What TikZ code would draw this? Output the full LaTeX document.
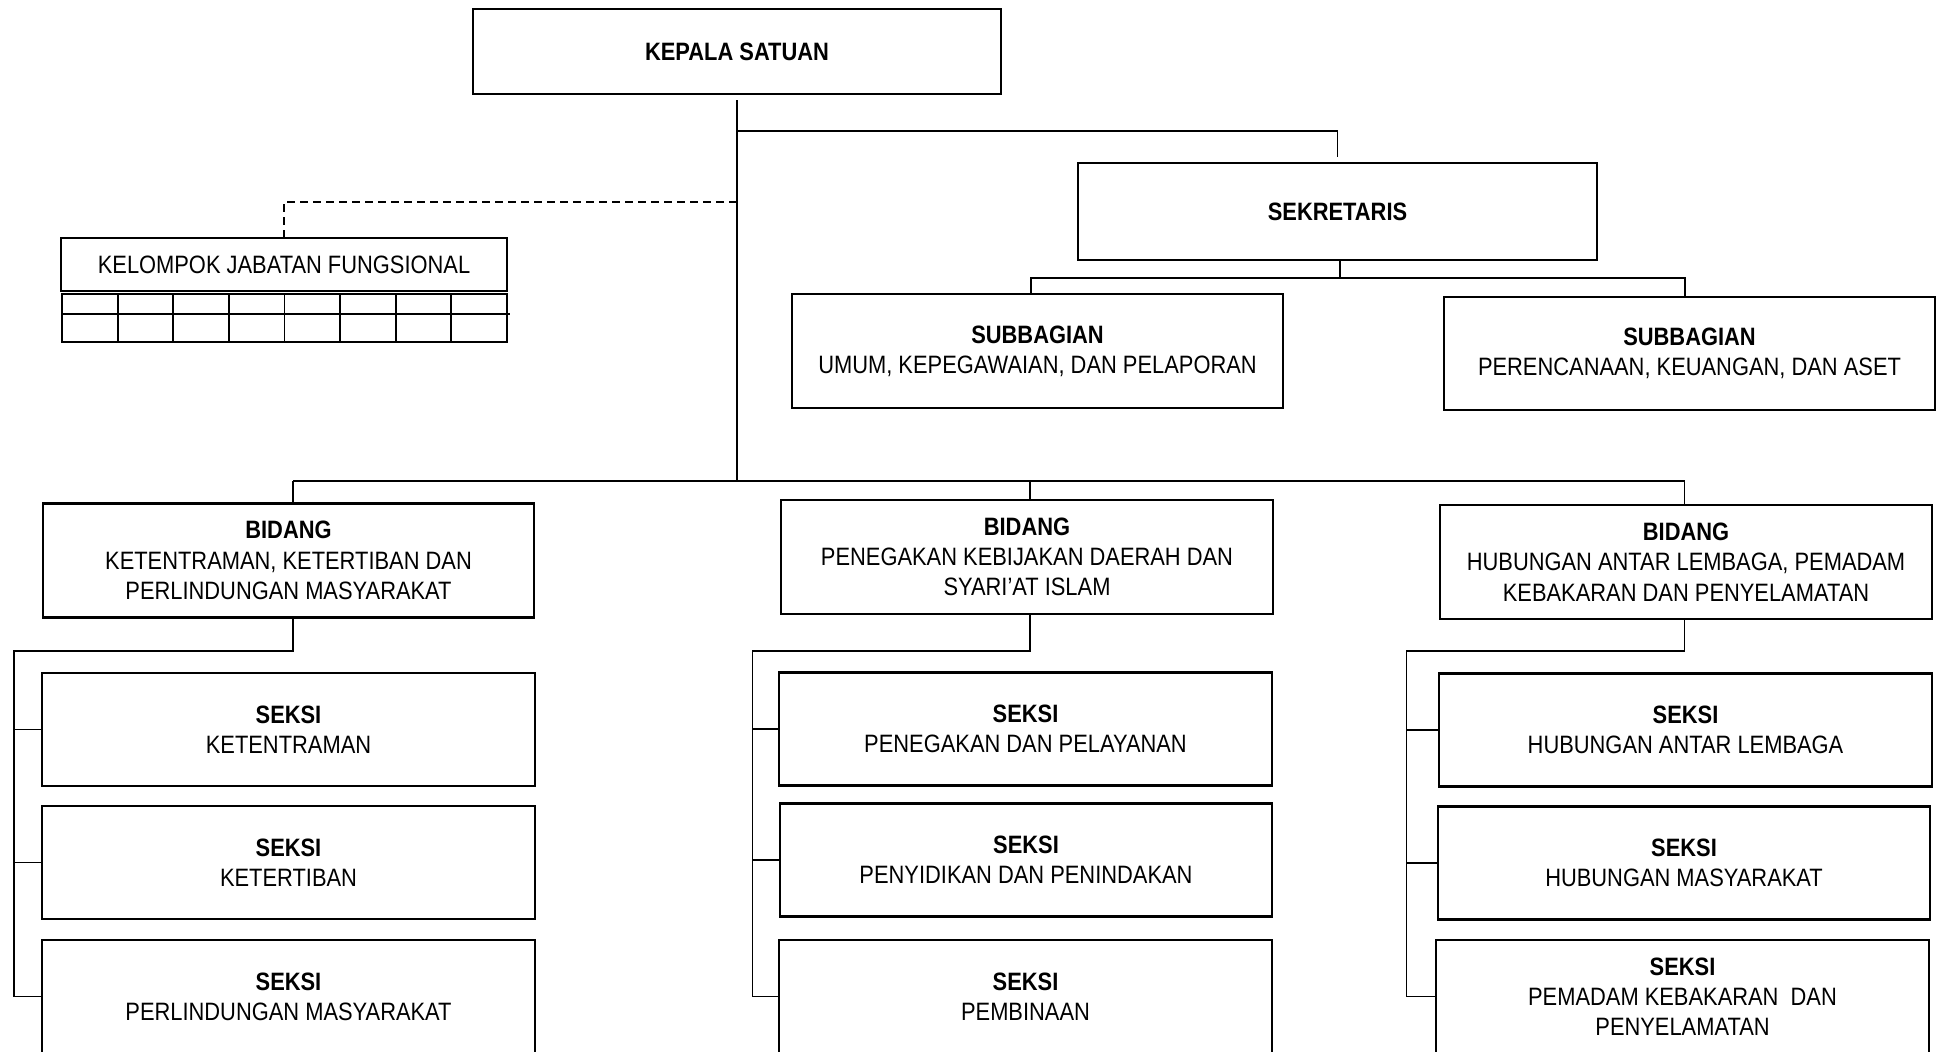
\documentclass[tikz,border=0pt]{standalone}
\usepackage{fontspec}
\setmainfont[FakeStretch=0.87]{Liberation Sans}
\usetikzlibrary{calc, positioning}

\begin{document}
\begin{tikzpicture}[x=0.01cm, y=-0.01cm,
    box/.style={draw, line width=0.6pt, rectangle, inner sep=0pt, align=center,
        font=\fontsize{7.15}{8.6}\selectfont},
    seksibox/.style={box, minimum width=4.92cm, minimum height=1.13cm},
    conn/.style={line width=0.55pt},
    dashconn/.style={line width=0.55pt, dash pattern=on 2.2pt off 1.5pt},
    cell/.style={line width=0.55pt}]

    \useasboundingbox (0,0) rectangle (1940,1051);
    \clip (0,0) rectangle (1940,1051);

    % pimpinan dan sekretariat
    \node[box, minimum width=5.28cm, minimum height=0.85cm] (nKepala) at (737,51.5) {\textbf{KEPALA SATUAN}};
    \node[box, minimum width=5.19cm, minimum height=0.97cm] (nSekretaris) at (1337.5,211.5) {\textbf{SEKRETARIS}};
    \node[box, minimum width=4.91cm, minimum height=1.14cm] (nSubbagA) at (1037.5,351) {\textbf{SUBBAGIAN}\\UMUM, KEPEGAWAIAN, DAN PELAPORAN};
    \node[box, minimum width=4.91cm, minimum height=1.13cm] (nSubbagB) at (1689.5,353.5) {\textbf{SUBBAGIAN}\\PERENCANAAN, KEUANGAN, DAN ASET};

    % fungsional
    \node[box, minimum width=4.46cm, minimum height=0.53cm] (nKelompok) at (284,264.5) {KELOMPOK JABATAN FUNGSIONAL};
    \foreach \i in {0,...,7}
    {
        \draw[cell] ({62+55.625*\i},294) rectangle ({62+55.625*(\i+1)},342);
    };
    \draw[cell] (62,314) -- (510,314);

    % bidang
    \node[box, minimum width=4.91cm, minimum height=1.14cm] (nBidangA) at (288.5,560.5) {\textbf{BIDANG}\\KETENTRAMAN, KETERTIBAN DAN\\PERLINDUNGAN MASYARAKAT};
    \node[box, minimum width=4.92cm, minimum height=1.14cm] (nBidangB) at (1027,557) {\textbf{BIDANG}\\PENEGAKAN KEBIJAKAN DAERAH DAN\\SYARI’AT ISLAM};
    \node[box, minimum width=4.91cm, minimum height=1.14cm] (nBidangC) at (1686,562) {\textbf{BIDANG}\\HUBUNGAN ANTAR LEMBAGA, PEMADAM\\KEBAKARAN DAN PENYELAMATAN};

    % seksi
    \node[seksibox] (nSeksiA1) at (288.5,729.5) {\textbf{SEKSI}\\KETENTRAMAN};
    \node[seksibox] (nSeksiA2) at (288.5,862.5) {\textbf{SEKSI}\\KETERTIBAN};
    \node[seksibox] (nSeksiA3) at (288.5,996.5) {\textbf{SEKSI}\\PERLINDUNGAN MASYARAKAT};
    \node[seksibox] (nSeksiB1) at (1025.5,729) {\textbf{SEKSI}\\PENEGAKAN DAN PELAYANAN};
    \node[seksibox] (nSeksiB2) at (1026,860) {\textbf{SEKSI}\\PENYIDIKAN DAN PENINDAKAN};
    \node[seksibox] (nSeksiB3) at (1025.5,996.5) {\textbf{SEKSI}\\PEMBINAAN};
    \node[seksibox] (nSeksiC1) at (1685.5,730) {\textbf{SEKSI}\\HUBUNGAN ANTAR LEMBAGA};
    \node[seksibox] (nSeksiC2) at (1684,863) {\textbf{SEKSI}\\HUBUNGAN MASYARAKAT};
    \node[seksibox] (nSeksiC3) at (1682.5,996.5) {\textbf{SEKSI}\\PEMADAM KEBAKARAN~ DAN\\PENYELAMATAN};

    % garis komando
    \coordinate (cTrunkTop) at ([yshift=-0.05cm]nKepala.south);
    \coordinate (cSekY) at (0,131);
    \coordinate (cFungY) at (0,202);
    \coordinate (cSubY) at (0,278);
    \coordinate (cBarY) at (0,481);

    \draw[conn] (cTrunkTop) -- (cTrunkTop |- cBarY);
    \draw[conn] (cTrunkTop |- cSekY) -| ([yshift=0.05cm]nSekretaris.north);
    \draw[conn] ([xshift=0.025cm]nSekretaris.south) -- ([xshift=0.025cm]nSekretaris.south |- cSubY);
    \draw[conn] ([xshift=-0.065cm]nSubbagA.north) |- ([xshift=-0.045cm]nSubbagB.north |- cSubY) -- ([xshift=-0.045cm]nSubbagB.north);
    \draw[dashconn] (cTrunkTop |- cFungY) -| (nKelompok.north);

    % kaki bidang
    \coordinate (cLegA) at ([xshift=0.045cm]nBidangA.north);
    \coordinate (cLegB) at ([xshift=0.03cm]nBidangB.north);
    \coordinate (cLegC) at ([xshift=-0.015cm]nBidangC.north);
    \coordinate (cFootA) at ([xshift=0.045cm]nBidangA.south);
    \coordinate (cFootB) at ([xshift=0.03cm]nBidangB.south);
    \coordinate (cFootC) at ([xshift=-0.015cm]nBidangC.south);
    \draw[conn] (cLegA |- cBarY) -- (cLegC |- cBarY);

    % garis seksi
    \coordinate (cRailA) at (14,651);
    \coordinate (cRailB) at (752.5,651);
    \coordinate (cRailC) at (1406.5,651);
    \foreach \c in {A,B,C}
    {
        \draw[conn] (cLeg\c |- cBarY) -- (cLeg\c);
        \draw[conn] (cFoot\c) |- (cRail\c) -- (cRail\c |- nSeksi\c3.west) -- (nSeksi\c3.west);
        \draw[conn] (cRail\c |- nSeksi\c1.west) -- (nSeksi\c1.west);
        \draw[conn] (cRail\c |- nSeksi\c2.west) -- (nSeksi\c2.west);
    };

\end{tikzpicture}
\end{document}
